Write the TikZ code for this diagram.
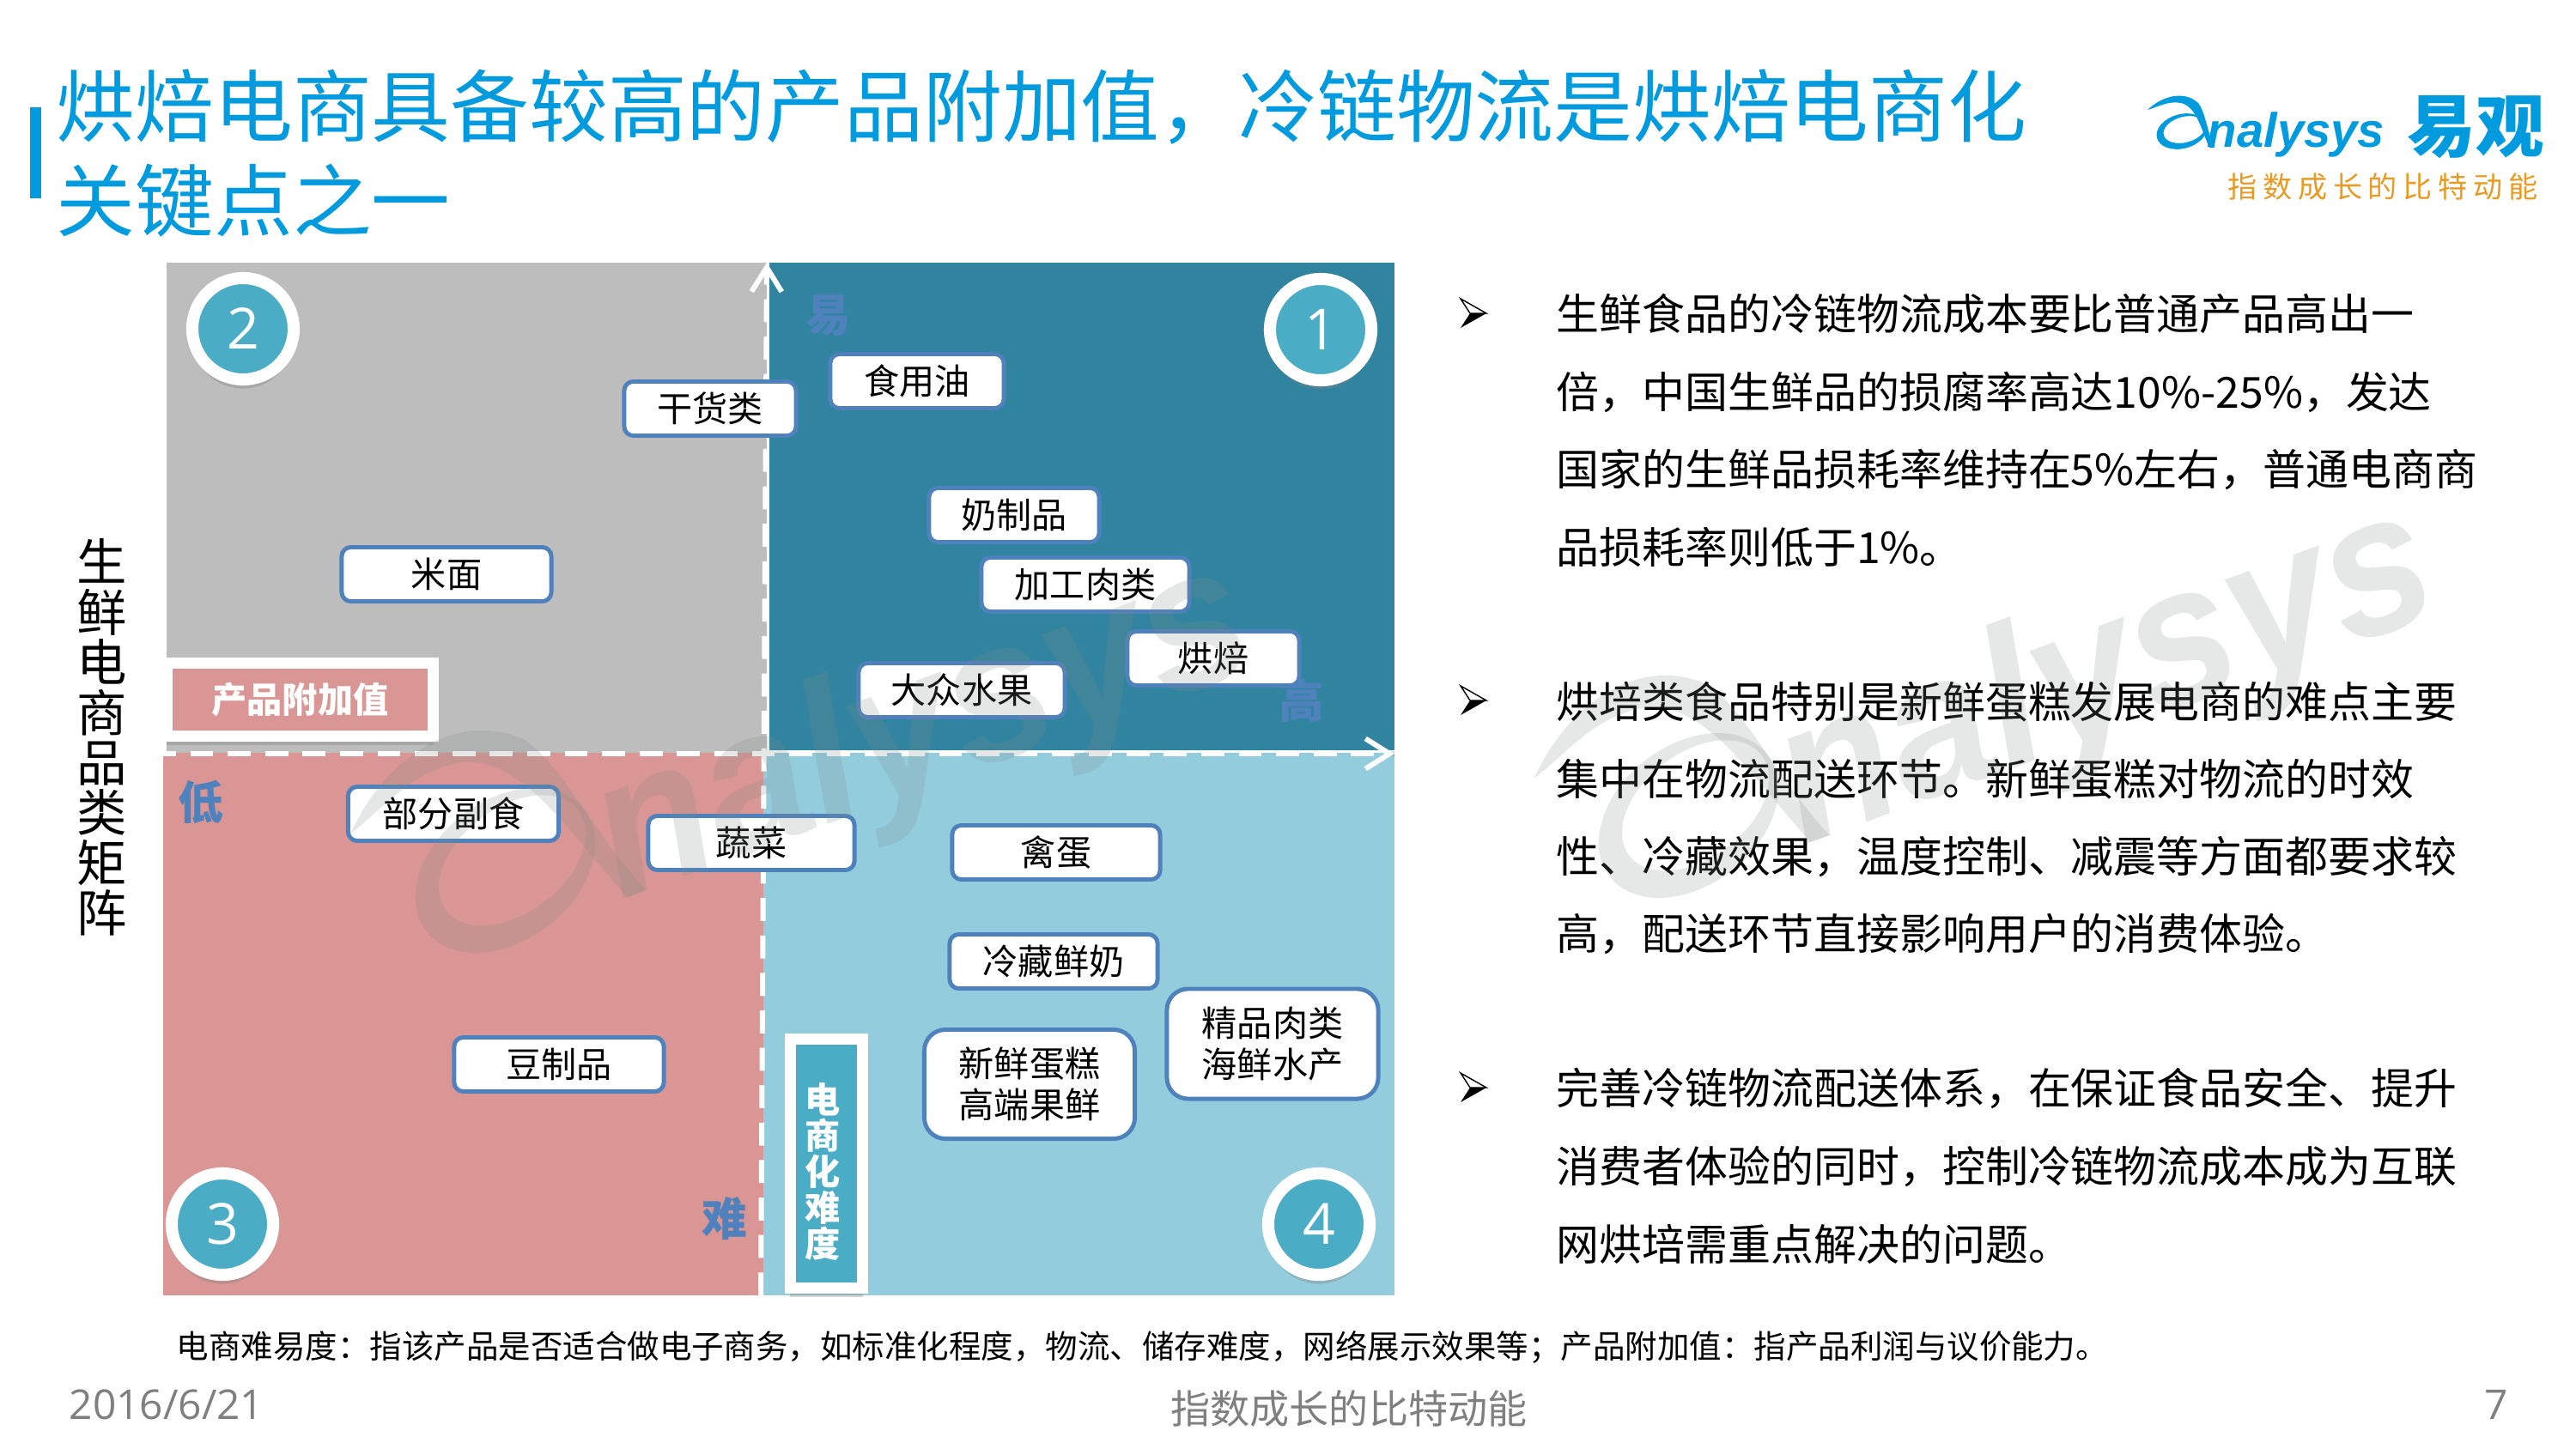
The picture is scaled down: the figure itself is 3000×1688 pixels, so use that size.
\documentclass[tikz,border=0pt]{standalone}
\usepackage{fontspec}
\usepackage{tikz}
\usetikzlibrary{shadows,arrows.meta}
\setmainfont{Noto Sans CJK SC}
\newfontfamily\latinfont{Open Sans}
\newfontfamily\logofont{Liberation Sans}
\definecolor{titleblue}{HTML}{009ADE}
\definecolor{boxblue}{HTML}{4F81BD}
\definecolor{ringblue}{HTML}{4BACC6}
\definecolor{quadteal}{HTML}{31849F}
\definecolor{quadgrey}{HTML}{BDBDBD}
\definecolor{quadpink}{HTML}{D99694}
\definecolor{quadsky}{HTML}{93CDDD}
\definecolor{footgrey}{HTML}{7F7F7F}
\definecolor{logoorange}{HTML}{E89A22}
\definecolor{markgrey}{HTML}{7F8A88}
\tikzset{
	foodbox/.style={draw=boxblue, line width=1.4pt, fill=white, rounded corners=3pt, minimum height=.63cm, inner sep=0pt, align=center, font=\fontsize{11.7}{13.6}\selectfont},
	ringnum/.style={circle, draw=white, fill=ringblue, line width=4pt, minimum size=1.18cm, inner sep=0pt, text=white, font=\latinfont\fontsize{18.8}{20}\selectfont, drop shadow={shadow xshift=0pt, shadow yshift=-3pt, opacity=.35}},
	axisbar/.style={draw=white, line width=3.7pt, inner sep=0pt, drop shadow={shadow xshift=0pt, shadow yshift=-3pt, opacity=.35}},
	bartext/.style={text=white, inner sep=0pt, align=center, font=\bfseries\fontsize{11.7}{11.9}\selectfont},
	corner/.style={text=boxblue, inner sep=0pt, font=\bfseries\fontsize{15}{16}\selectfont},
	bodyline/.style={anchor=west, inner sep=0pt, font=\fontsize{14.2}{16}\selectfont},
	axisline/.style={draw=white, line width=1.7pt, dash pattern=on 7.6pt off 4.8pt, -{Straight Barb[length=8pt,width=10pt,line width=1.7pt]}},
	axisshadow/.style={draw=black, opacity=.14, line width=1.7pt, dash pattern=on 7.6pt off 4.8pt},
	footnum/.style={text=footgrey, inner sep=0pt, font=\latinfont\fontsize{13.6}{15}\selectfont},
	bulletmark/.pic={
		\draw[line width=.4pt] (-15,-17) -- (15,0) -- (-4,0) -- cycle;
		\fill (-15,17) -- (15,0) -- (-4,0) -- cycle;
	},
	analysysmark/.pic={
		\fill (-69,-44) .. controls (-50,-62) and (-25,-66) .. (-10,-52) .. controls (-2,-42) and (0,-20) .. (9,0) -- (3,0) .. controls (-6,-20) and (-12,-48) .. (-30,-52) .. controls (-45,-55) and (-58,-47) .. cycle;
		\fill[even odd rule] (-29,-19) ellipse [x radius=30, y radius=20, rotate=15] (-26,-21) ellipse [x radius=25, y radius=15, rotate=15];
		\node[anchor=base west, inner sep=0pt, transform shape, font=\logofont\bfseries\itshape\fontsize{16}{18}\selectfont] (word) at (0,0) {nalysys};
	}
}
\begin{document}
\begin{tikzpicture}[x=.01cm, y=-.01cm]
	\useasboundingbox (0,0) rectangle (3000,1688);
	% Quadrants
	\fill[quadgrey] (194,306) rectangle (893,877);
	\fill[quadteal] (896,306) rectangle (1624,874);
	\fill[quadpink] (190,877) rectangle (889,1509);
	\fill[quadsky] (889,877) rectangle (1624,1509);
	% Axes
	\coordinate (xstart) at (178,878);
	\coordinate (xend) at (1624,878);
	\coordinate (ystart) at (886,1509);
	\coordinate (yend) at (893,306);
	\draw[axisshadow, yshift=-4pt] (xstart) -- (xend);
	\draw[axisline] (xstart) -- (xend);
	\draw[axisline] (ystart) -- (yend);
	% Title
	\fill[titleblue] (35,125) rectangle (48,231);
	\node[anchor=west, inner sep=0pt, text=titleblue, font=\fontsize{26.1}{28}\selectfont] (title1) at (65,125) {烘焙电商具备较高的产品附加值，冷链物流是烘焙电商化};
	\node[anchor=west, inner sep=0pt, text=titleblue, font=\fontsize{26.1}{28}\selectfont] (title2) at (65,234) {关键点之一};
	% Logo
	\begin{scope}[color=titleblue]
		\pic (logo) at (2570,172) {analysysmark};
	\end{scope}
	\node[text=titleblue, inner sep=0pt, font=\bfseries\fontsize{22.7}{24}\selectfont] (logoname) at (2883,148) {易观};
	\node[text=logoorange, inner sep=0pt, font=\fontsize{9.7}{11}\selectfont\addfontfeature{LetterSpace=20}] (logoslogan) at (2775,218) {指数成长的比特动能};
	% Side label
	\node[inner sep=0pt, align=center, font=\fontsize{16.6}{16.6}\selectfont] (sidelabel) at (119,859) {生\\鲜\\电\\商\\品\\类\\矩\\阵};
	% Axis labels
	\node[axisbar, fill=quadpink, minimum width=3.10cm, minimum height=.84cm] (valuebar) at (349.5,815) {};
	\node[bartext] (valuetext) at (valuebar) {产品附加值};
	\node[axisbar, fill=ringblue, minimum width=.84cm, minimum height=2.89cm] (hardbar) at (962.5,1355.5) {};
	\node[bartext] (hardtext) at (958,1365) {电\\商\\化\\难\\度};
	\node[corner] (easy) at (965,368) {易};
	\node[corner] (high) at (1516,816) {高};
	\node[corner] (low) at (234,934) {低};
	\node[corner] (hard) at (844,1420) {难};
	% Numbers
	\node[ringnum] (ring1) at (1538,384) {1};
	\node[ringnum] (ring2) at (283,383) {2};
	\node[ringnum] (ring3) at (259,1426) {3};
	\node[ringnum] (ring4) at (1536,1426) {4};
	% Products
	\foreach \n/\cx/\cy/\w/\t in {ganhuo/827/476/2.00/干货类, shiyong/1068/444/2.02/食用油, naizhi/1181/600/1.98/奶制品, jiagong/1264/681/2.42/加工肉类, hongbei/1413/767/2.00/烘焙, dazhong/1120/804/2.40/大众水果, mimian/520/669/2.44/米面, bufen/528/948/2.45/部分副食, shucai/875/982/2.40/蔬菜, qindan/1230/993/2.42/禽蛋, lengcang/1227/1120/2.42/冷藏鲜奶, doufu/651/1240/2.44/豆制品} {
		\node[foodbox, minimum width=\w cm] (\n) at (\cx,\cy) {\t};
	}
	\node[foodbox, rounded corners=7pt, minimum width=2.46cm, minimum height=1.28cm] (jingpin) at (1482,1216) {精品肉类\\海鲜水产};
	\node[foodbox, rounded corners=7pt, minimum width=2.45cm, minimum height=1.27cm] (xinxian) at (1199,1263) {新鲜蛋糕\\高端果鲜};
	% Right text
	\foreach \i/\y in {1/365,2/816,3/1267} {
		\pic (bullet\i) at (1716,\y) {bulletmark};
	}
	\foreach \i/\y/\t in {1/366/生鲜食品的冷链物流成本要比普通产品高出一, 2/457/倍，中国生鲜品的损腐率高达10\%-25\%，发达, 3/547/国家的生鲜品损耗率维持在5\%左右，普通电商商, 4/637/品损耗率则低于1\%。, 5/818/烘培类食品特别是新鲜蛋糕发展电商的难点主要, 6/908/集中在物流配送环节。新鲜蛋糕对物流的时效, 7/998/性、冷藏效果，温度控制、减震等方面都要求较, 8/1088/高，配送环节直接影响用户的消费体验。, 9/1268/完善冷链物流配送体系，在保证食品安全、提升, 10/1359/消费者体验的同时，控制冷链物流成本成为互联, 11/1449/网烘培需重点解决的问题。} {
		\node[bodyline] (line\i) at (1812,\y) {\t};
	}
	% Watermarks
	\begin{scope}[color=markgrey, opacity=.2]
		\pic[rotate=20, xscale=3.85, yscale=4.1] (markA) at (720,1049) {analysysmark};
		\pic[rotate=20, xscale=3.85, yscale=4.1] (markB) at (2098,985) {analysysmark};
	\end{scope}
	% Footer
	\node[anchor=west, inner sep=0pt, font=\fontsize{10.66}{12}\selectfont] (note) at (205,1570) {电商难易度：指该产品是否适合做电子商务，如标准化程度，物流、储存难度，网络展示效果等；产品附加值：指产品利润与议价能力。};
	\node[footnum, anchor=west] (date) at (80,1636) {2016/6/21};
	\node[text=footgrey, inner sep=0pt, font=\fontsize{13.1}{15}\selectfont] (slogan) at (1571,1641) {指数成长的比特动能};
	\node[footnum] (page) at (2907,1636) {7};
\end{tikzpicture}
\end{document}
